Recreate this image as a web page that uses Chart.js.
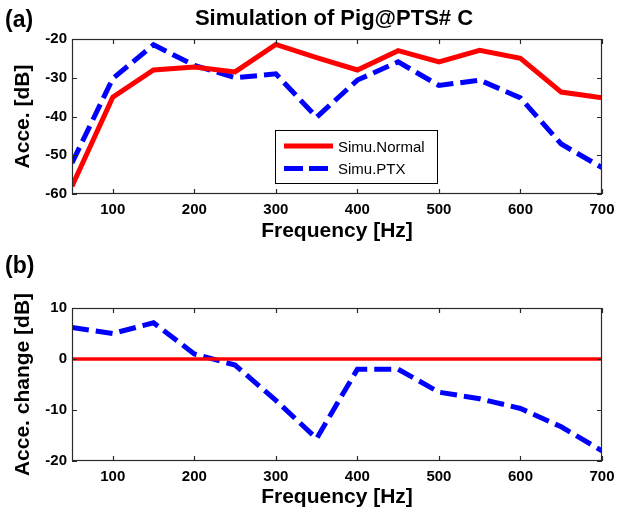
<!DOCTYPE html>
<html>
<head>
<meta charset="utf-8">
<title>Simulation of Pig@PTS# C</title>
<script src="https://cdn.jsdelivr.net/npm/chart.js@4.4.1/dist/chart.umd.min.js"></script>
<style>
body { margin:0; background:#fff; width:624px; height:521px; position:relative; overflow:hidden; font-family:"Liberation Sans", Arial, sans-serif; }
canvas { position:absolute; left:0; }
#c1 { top:0; }
#c2 { top:262px; }
.lbl { position:absolute; font-weight:bold; color:#000; line-height:1; white-space:nowrap; }
</style>
</head>
<body>
<canvas id="c1" width="624" height="262"></canvas>
<canvas id="c2" width="624" height="259"></canvas>
<div class="lbl" style="left:5px; top:8px; font-size:23px;">(a)</div>
<div class="lbl" style="left:5px; top:254px; font-size:23px;">(b)</div>
<div class="lbl" style="left:174px; top:7px; width:320px; text-align:center; font-size:22px;">Simulation of Pig@PTS# C</div>
<script>
// data
const freq = [50, 100, 150, 200, 250, 300, 350, 400, 450, 500, 550, 600, 650, 700];
const simuNormal = [-58, -35, -28, -27.2, -28.5, -21.4, -24.8, -28, -23, -25.9, -22.9, -25, -33.7, -35.2];
const simuPTX = [-52, -30.2, -21.5, -26.8, -30, -29, -40.2, -30.6, -25.9, -32, -30.6, -35.2, -47.1, -53.2];
const changeNormal = [0, 0, 0, 0, 0, 0, 0, 0, 0, 0, 0, 0, 0, 0];
const changePTX = [6.2, 5, 7.1, 1, -1.2, -8.1, -15.6, -2, -2, -6.5, -7.8, -9.7, -13.3, -18];
const xTicks = [100, 200, 300, 400, 500, 600, 700];
const yTicksA = [-60, -50, -40, -30, -20];
const yTicksB = [-20, -10, 0, 10];

const FONT = '"Liberation Sans", Arial, sans-serif';
const RED = '#ff0000';
const BLUE = '#0000ff';
const DASH = [17, 7];

function pts(vals) {
    return freq.map((f, i) => ({ x: f, y: vals[i] }));
}

// matlab style box with inward ticks on all sides
const frameTicks = {
    id: 'frameTicks',
    afterDatasetsDraw(chart) {
        const { ctx, chartArea: a, scales: { x, y } } = chart;
        ctx.save();
        ctx.strokeStyle = '#2a2a2a';
        ctx.lineWidth = 1.2;
        ctx.setLineDash([]);
        ctx.beginPath();
        x.ticks.forEach(t => {
            const px = Math.round(x.getPixelForValue(t.value)) + 0.5;
            ctx.moveTo(px, a.bottom); ctx.lineTo(px, a.bottom - 5);
            ctx.moveTo(px, a.top); ctx.lineTo(px, a.top + 5);
        });
        y.ticks.forEach(t => {
            const py = Math.round(y.getPixelForValue(t.value)) + 0.5;
            ctx.moveTo(a.left, py); ctx.lineTo(a.left + 5, py);
            ctx.moveTo(a.right, py); ctx.lineTo(a.right - 5, py);
        });
        ctx.stroke();
        ctx.strokeRect(a.left + 0.5, a.top + 0.5, a.width - 1, a.height - 1);
        ctx.restore();
    }
};

// legend box inside the plot, like the original
const boxLegend = {
    id: 'boxLegend',
    afterDraw(chart, args, opts) {
        if (!opts.show) return;
        const { ctx } = chart;
        const { left, top, width, height } = opts;
        ctx.save();
        ctx.fillStyle = '#fff';
        ctx.fillRect(left, top, width, height);
        ctx.strokeStyle = '#000';
        ctx.lineWidth = 1;
        ctx.strokeRect(left + 0.5, top + 0.5, width, height);
        chart.data.datasets.forEach((ds, i) => {
            const yy = top + 16 + i * 22.6;
            ctx.strokeStyle = ds.borderColor;
            ctx.lineWidth = ds.borderWidth;
            ctx.setLineDash(ds.borderDash ? [19, 6] : []);
            ctx.beginPath();
            ctx.moveTo(left + 9, yy);
            ctx.lineTo(left + 58, yy);
            ctx.stroke();
            ctx.setLineDash([]);
            ctx.fillStyle = '#000';
            ctx.font = '15px ' + FONT;
            ctx.textBaseline = 'middle';
            ctx.fillText(ds.label, left + 63, yy + 1.5);
        });
        ctx.restore();
    }
};

function makeChart(id, datasets, yMin, yMax, yTicks, yTitle, xAxisH, xTitlePad, padTop, legend) {
    const ctx = document.getElementById(id).getContext('2d');
    return new Chart(ctx, {
        type: 'line',
        data: { datasets: datasets },
        options: {
            responsive: false,
            animation: false,
            layout: { padding: { left: 0, right: 22, top: padTop, bottom: 0 } },
            elements: { point: { radius: 0 }, line: { tension: 0, borderCapStyle: 'butt' } },
            plugins: {
                legend: { display: false },
                tooltip: { enabled: false },
                boxLegend: legend
            },
            scales: {
                x: {
                    type: 'linear',
                    min: 50,
                    max: 700,
                    afterBuildTicks: axis => { axis.ticks = xTicks.map(v => ({ value: v })); },
                    afterFit: axis => { axis.height = xAxisH; },
                    grid: { display: false, drawTicks: false },
                    border: { display: false },
                    ticks: { color: '#000', padding: 7, maxRotation: 0, font: { family: FONT, size: 15, weight: 'bold' } },
                    title: { display: true, text: 'Frequency [Hz]', color: '#000', padding: { bottom: xTitlePad }, font: { family: FONT, size: 21, weight: 'bold' } }
                },
                y: {
                    min: yMin,
                    max: yMax,
                    afterBuildTicks: axis => { axis.ticks = yTicks.map(v => ({ value: v })); },
                    afterFit: axis => { axis.width = 72; },
                    grid: { display: false, drawTicks: false },
                    border: { display: false },
                    ticks: { color: '#000', padding: 5, font: { family: FONT, size: 15, weight: 'bold' } },
                    title: { display: true, text: yTitle, color: '#000', padding: { top: 11 }, font: { family: FONT, size: 21, weight: 'bold' } }
                }
            }
        },
        plugins: [frameTicks, boxLegend]
    });
}

makeChart('c1', [
    { label: 'Simu.Normal', data: pts(simuNormal), borderColor: RED, borderWidth: 5, fill: false },
    { label: 'Simu.PTX', data: pts(simuPTX), borderColor: BLUE, borderWidth: 5, borderDash: DASH, fill: false }
], -60, -20, yTicksA, 'Acce. [dB]', 68, 18, 39,
    { show: true, left: 275, top: 130, width: 162, height: 53 });

makeChart('c2', [
    { label: 'Normal', data: pts(changeNormal), borderColor: RED, borderWidth: 3.5, fill: false },
    { label: 'PTX', data: pts(changePTX), borderColor: BLUE, borderWidth: 5, borderDash: DASH, fill: false }
], -20, 10, yTicksB, 'Acce. change [dB]', 60, 11, 46,
    { show: false });
</script>
</body>
</html>
